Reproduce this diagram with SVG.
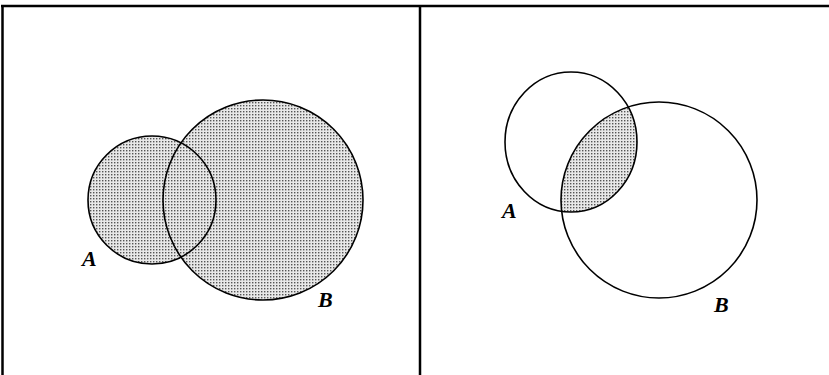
<svg xmlns="http://www.w3.org/2000/svg" width="829" height="375" viewBox="0 0 829 375">
<style>
.frame{stroke:#000;stroke-width:2.5;fill:none}
.circ{stroke:#000;stroke-width:1.6;fill:none}
.lbl{font-family:"Liberation Serif",serif;font-style:italic;font-weight:bold;font-size:22px;fill:#000}
</style>
<defs>
<pattern id="dots" width="3" height="3" patternUnits="userSpaceOnUse">
<rect width="3" height="3" fill="#e8e8e8"/>
<rect x="0" y="0" width="1.4" height="1.4" fill="#555"/>
</pattern>
<clipPath id="clipA2"><ellipse cx="571" cy="142" rx="66" ry="70"/></clipPath>
</defs>
<rect width="829" height="375" fill="#fff"/>
<g id="frame">
<line class="frame" x1="1" y1="6" x2="829" y2="6"/>
<line class="frame" x1="2.5" y1="5" x2="2.5" y2="375"/>
<line class="frame" x1="420" y1="5" x2="420" y2="375"/>
</g>
<g id="left-union">
<circle cx="152" cy="200" r="64" fill="url(#dots)"/>
<circle cx="263" cy="200" r="100" fill="url(#dots)"/>
</g>
<g id="left-A">
<circle class="circ" cx="152" cy="200" r="64"/>
<text class="lbl" x="82" y="266">A</text>
</g>
<g id="left-B">
<circle class="circ" cx="263" cy="200" r="100"/>
<text class="lbl" x="318" y="307">B</text>
</g>
<g id="right-intersection">
<circle cx="659" cy="200" r="98" fill="url(#dots)" clip-path="url(#clipA2)"/>
</g>
<g id="right-A">
<ellipse class="circ" cx="571" cy="142" rx="66" ry="70"/>
<text class="lbl" x="502" y="218">A</text>
</g>
<g id="right-B">
<circle class="circ" cx="659" cy="200" r="98"/>
<text class="lbl" x="714" y="312">B</text>
</g>
</svg>
